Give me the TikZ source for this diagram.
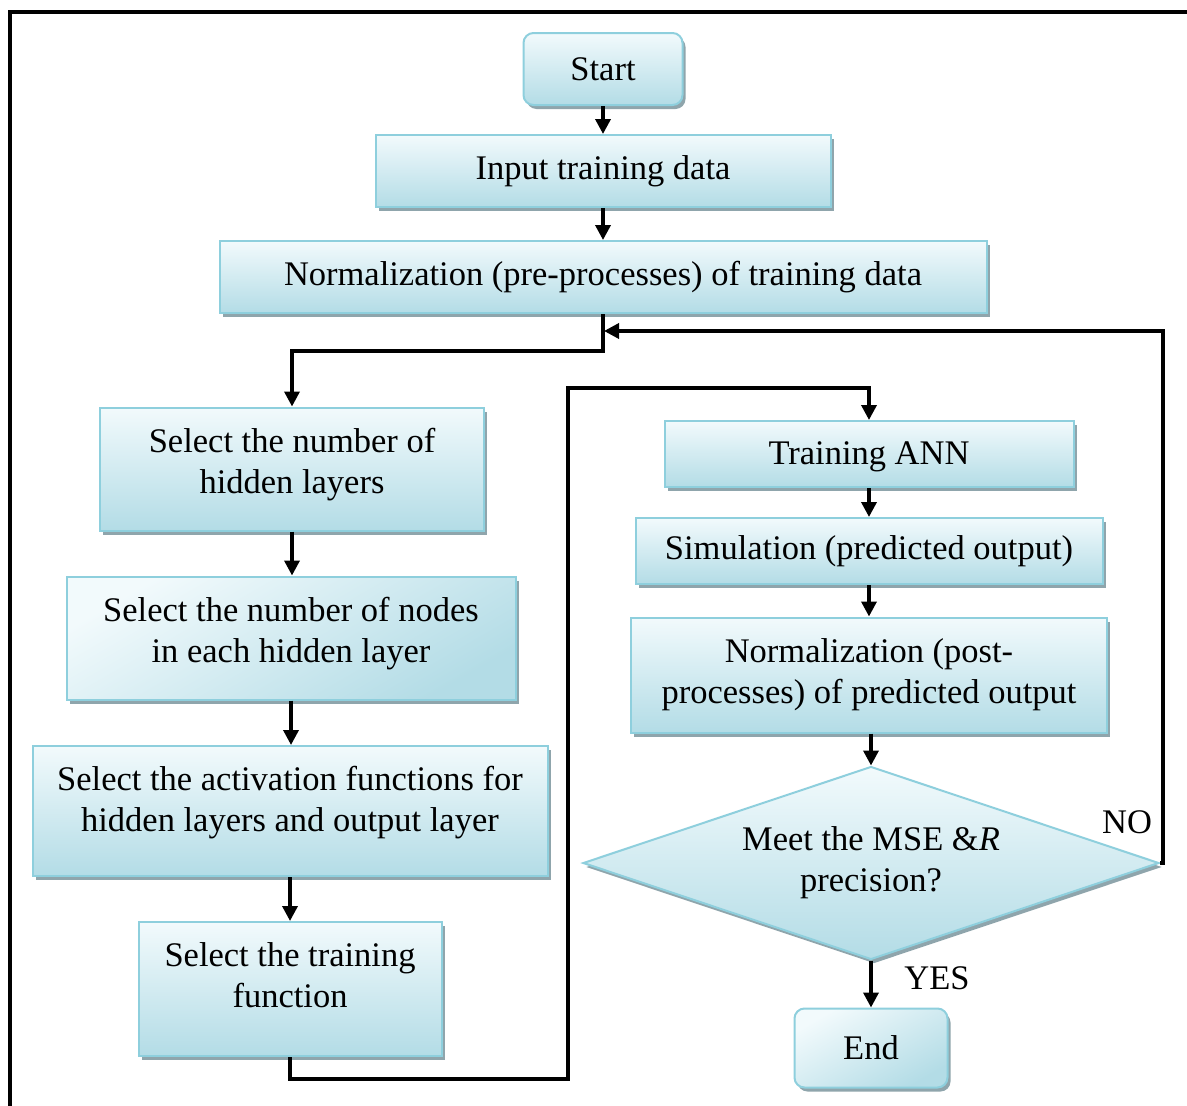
\documentclass[tikz,border=0pt]{standalone}
\usepackage{fontspec}
\setmainfont{Liberation Serif}
\usetikzlibrary{arrows.meta,shapes.geometric,shadows}
\definecolor{bord}{HTML}{8ECFDD}
\definecolor{topc}{HTML}{F2FAFC}
\definecolor{botc}{HTML}{B3DCE6}
\definecolor{shad}{HTML}{8FA5AC}
\begin{document}
\begin{tikzpicture}[x=1pt,y=-1pt,
  box/.style={draw=bord, line width=2pt, top color=topc, bottom color=botc, align=center, inner sep=0pt,
    drop shadow={shadow xshift=3pt,shadow yshift=-4pt,fill=shad,opacity=1},
    font=\fontsize{34.5}{41}\selectfont},
  conn/.style={line width=3.5pt, -{Triangle[width=15pt,length=15pt]}},
  lab/.style={font=\fontsize{34.5}{41}\selectfont, inner sep=0pt}]
\useasboundingbox (0,0) rectangle (1187,1106);
\fill[white] (0,0) rectangle (1187,1106);
\draw[line width=4pt] (10,1106) -- (10,12) -- (1187,12);

\node[box, rounded corners=10pt, minimum width=159pt, minimum height=72pt] (start) at (603,69) {Start};
\node[box, minimum width=455pt, minimum height=72pt] (input) at (603,171) {Input training data};
\node[box, minimum width=767pt, minimum height=72pt] (norm) at (603,277) {Normalization (pre-processes) of training data};

\node[box, minimum width=384pt, minimum height=123pt, text depth=17pt] (hid) at (292,469) {Select the number of\\hidden layers};
\node[box, minimum width=449pt, minimum height=123pt, shading angle=30, text depth=17pt] (nodes) at (291,638) {Select the number of nodes\\in each hidden layer};
\node[box, minimum width=515pt, minimum height=130pt, text depth=25pt] (act) at (290,811) {Select the activation functions for\\hidden layers and output layer};
\node[box, minimum width=303pt, minimum height=134pt, text depth=28pt] (tfun) at (290,989) {Select the training\\function};

\node[box, minimum width=409pt, minimum height=66pt, text depth=2pt] (ann) at (869,454) {Training ANN};
\node[box, minimum width=467pt, minimum height=66pt] (sim) at (869,551) {Simulation (predicted output)};
\node[box, minimum width=476pt, minimum height=115pt] (post) at (869,675) {Normalization (post-\\processes) of predicted output};
\node[box, shape=diamond, aspect=3, minimum width=576pt, minimum height=193pt] (dia) at (871,863) {Meet the MSE \&\textit{R}\\precision?};
\node[box, rounded corners=10pt, minimum width=153pt, minimum height=79pt, shading angle=30] (end) at (871,1048) {End};

\node[lab] (no) at (1127,822) {NO};
\node[lab] (yes) at (937,978) {YES};

\coordinate (j) at (604,331);
\coordinate (nr) at (1163,331);
\coordinate (b1) at (568,1079);
\coordinate (b2) at (568,388);

\draw[conn] (start) -- (input);
\draw[conn] (input) -- (norm);
\draw[conn] (norm.south) |- (296,351) -| (hid.north);
\draw[conn] (hid.south) -- (hid.south |- nodes.north);
\draw[conn] (nodes.south) -- (nodes.south |- act.north);
\draw[conn] (act) -- (tfun);
\draw[conn] (tfun.south) |- (b1) -- (b2) -| (ann.north);
\draw[conn] (ann) -- (sim);
\draw[conn] (sim) -- (post);
\draw[conn] (post.south -| dia.north) -- (dia.north);
\draw[conn] (dia) -- (end);
\draw[conn] (dia.east) -| (nr) -- (j);
\end{tikzpicture}
\end{document}
